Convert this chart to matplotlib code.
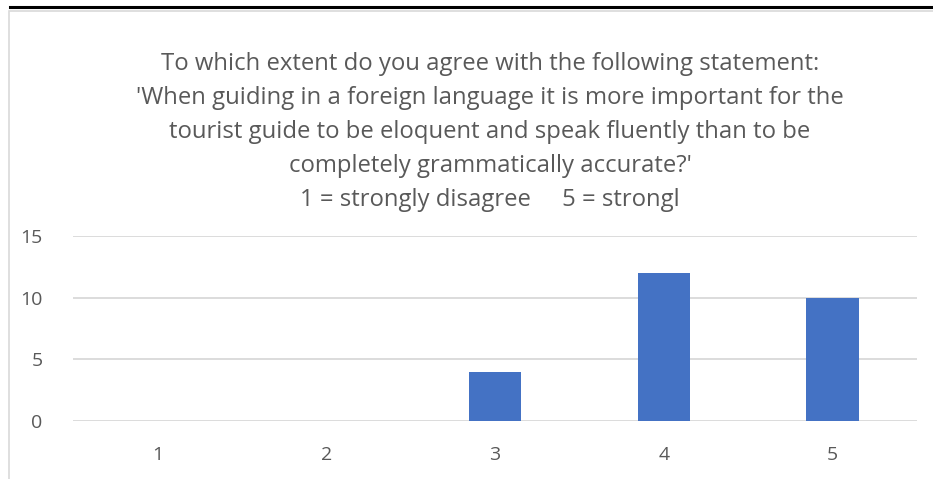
import matplotlib.pyplot as plt
from matplotlib.lines import Line2D
from matplotlib.patches import Rectangle

plt.rcParams['font.family'] = ['Open Sans', 'DejaVu Sans']

# data
categories = ['1', '2', '3', '4', '5']
counts = [0, 0, 4, 12, 10]
y_ticks = [0, 5, 10, 15]
title_lines = [
    "To which extent do you agree with the following statement:",
    "'When guiding in a foreign language it is more important for the",
    "tourist guide to be eloquent and speak fluently than to be",
    "completely grammatically accurate?'",
    "1 = strongly disagree     5 = strongl",
]

fig = plt.figure(figsize=(9.33, 4.79), dpi=100)
W, H = 933, 479

# black rule at the very top and light chart frame
fig.add_artist(Line2D([10 / W, 1], [1 - 7 / H, 1 - 7 / H], color='black', lw=2.2))
fig.add_artist(Rectangle((9 / W, -0.05), 1.2, 1 - 11 / H + 0.05, fill=False,
                         edgecolor='#d9d9d9', lw=1.2, transform=fig.transFigure))

ax = fig.add_axes([73 / W, 1 - 421 / H, (917 - 73) / W, (421 - 236) / H])
x = range(len(categories))
ax.bar(x, counts, width=0.31, color='#4472C4', zorder=3)
ax.set_xlim(-0.5, len(categories) - 0.5)
ax.set_ylim(0, 15)
ax.set_yticks(y_ticks)
ax.set_xticks(list(x))
ax.set_xticklabels(categories)
ax.yaxis.grid(True, color='#d9d9d9', lw=1.3, zorder=0)
for s in ax.spines.values():
    s.set_visible(False)
ax.tick_params(length=0, colors='#595959', labelsize=14)
ax.tick_params(axis='y', pad=22)
ax.tick_params(axis='x', pad=18)

for i, line in enumerate(title_lines):
    fig.text(490 / W, 1 - (64 + i * 34) / H, line, ha='center', va='center',
             fontsize=17.2, color='#595959')

fig.savefig('out.png', dpi=100)
